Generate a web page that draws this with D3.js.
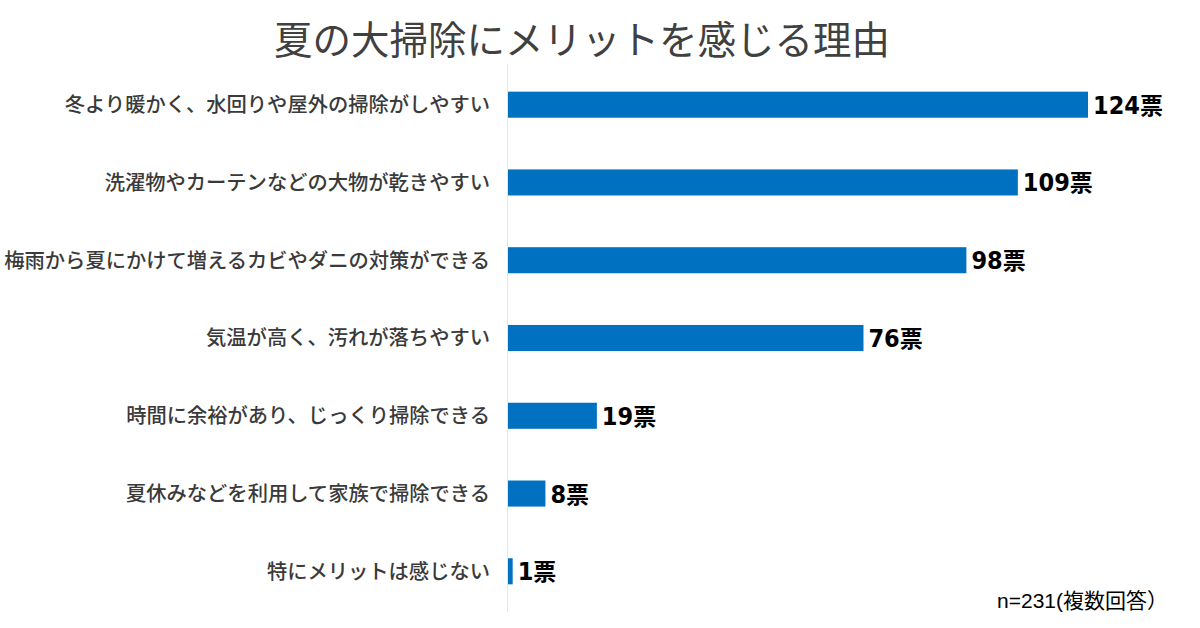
<!DOCTYPE html>
<html>
<head>
<meta charset="utf-8">
<script src="https://d3js.org/d3.v7.min.js"></script>
<style>
  body { margin: 0; background: #fff; }
  svg { display: block; }
</style>
</head>
<body>
<div id="chart"></div>
<script>
// データ
var categories = [
  "冬より暖かく、水回りや屋外の掃除がしやすい",
  "洗濯物やカーテンなどの大物が乾きやすい",
  "梅雨から夏にかけて増えるカビやダニの対策ができる",
  "気温が高く、汚れが落ちやすい",
  "時間に余裕があり、じっくり掃除できる",
  "夏休みなどを利用して家族で掃除できる",
  "特にメリットは感じない"
];
var votes = [124, 109, 98, 76, 19, 8, 1];
var unit = "票";
var title = "夏の大掃除にメリットを感じる理由";
var note = "n=231(複数回答）";

var width = 1200, height = 628;
var svg = d3.select("#chart").append("svg")
  .attr("width", width)
  .attr("height", height);

var x = d3.scaleLinear().domain([0, 124]).range([508, 1088]);
var y = d3.scaleBand().domain(categories).range([66, 610]).paddingInner(0.665).paddingOuter(0.33);

// 軸線
svg.append("line")
  .attr("x1", 507.5).attr("x2", 507.5)
  .attr("y1", 64).attr("y2", 612)
  .style("stroke", "#e6e6e6")
  .style("stroke-width", 1);

// タイトル
svg.append("text")
  .attr("x", 582).attr("y", 54)
  .attr("text-anchor", "middle")
  .style("font-family", "'Noto Sans CJK JP', sans-serif")
  .style("font-size", "38.5px")
  .style("fill", "#404040")
  .text(title);

// 棒
svg.selectAll("rect.bar")
  .data(votes)
  .enter()
  .append("rect")
  .attr("class", "bar")
  .attr("x", x(0))
  .attr("y", function(d, i) { return y(categories[i]); })
  .attr("width", function(d) { return x(d) - x(0); })
  .attr("height", y.bandwidth())
  .style("fill", "#0070c0");

// 項目名
svg.selectAll("text.cat")
  .data(categories)
  .enter()
  .append("text")
  .attr("class", "cat")
  .attr("x", 490)
  .attr("y", function(d) { return y(d) + y.bandwidth() / 2; })
  .attr("dy", "0.36em")
  .attr("text-anchor", "end")
  .style("font-family", "'Noto Sans CJK JP', sans-serif")
  .style("font-size", "20.3px")
  .style("font-weight", 500)
  .style("fill", "#3a3a3a")
  .text(function(d) { return d; });

// 数値ラベル
var vals = svg.selectAll("text.val")
  .data(votes)
  .enter()
  .append("text")
  .attr("class", "val")
  .attr("x", function(d) { return x(d) + 5; })
  .attr("y", function(d, i) { return y(categories[i]) + y.bandwidth() / 2; })
  .attr("dy", "0.36em")
  .style("font-size", "25px")
  .style("font-weight", "bold")
  .style("fill", "#000");
vals.append("tspan")
  .style("font-family", "'DejaVu Sans Condensed', 'DejaVu Sans', sans-serif")
  .style("font-stretch", "condensed")
  .text(function(d) { return d; });
vals.append("tspan")
  .style("font-family", "'Noto Sans CJK JP', sans-serif")
  .style("font-size", "23px")
  .text(unit);

// 注記
svg.append("text")
  .attr("x", 1168).attr("y", 608)
  .attr("text-anchor", "end")
  .style("font-family", "'Liberation Sans', 'Noto Sans CJK JP', sans-serif")
  .style("font-size", "21px")
  .style("fill", "#000")
  .text(note);
</script>
</body>
</html>
